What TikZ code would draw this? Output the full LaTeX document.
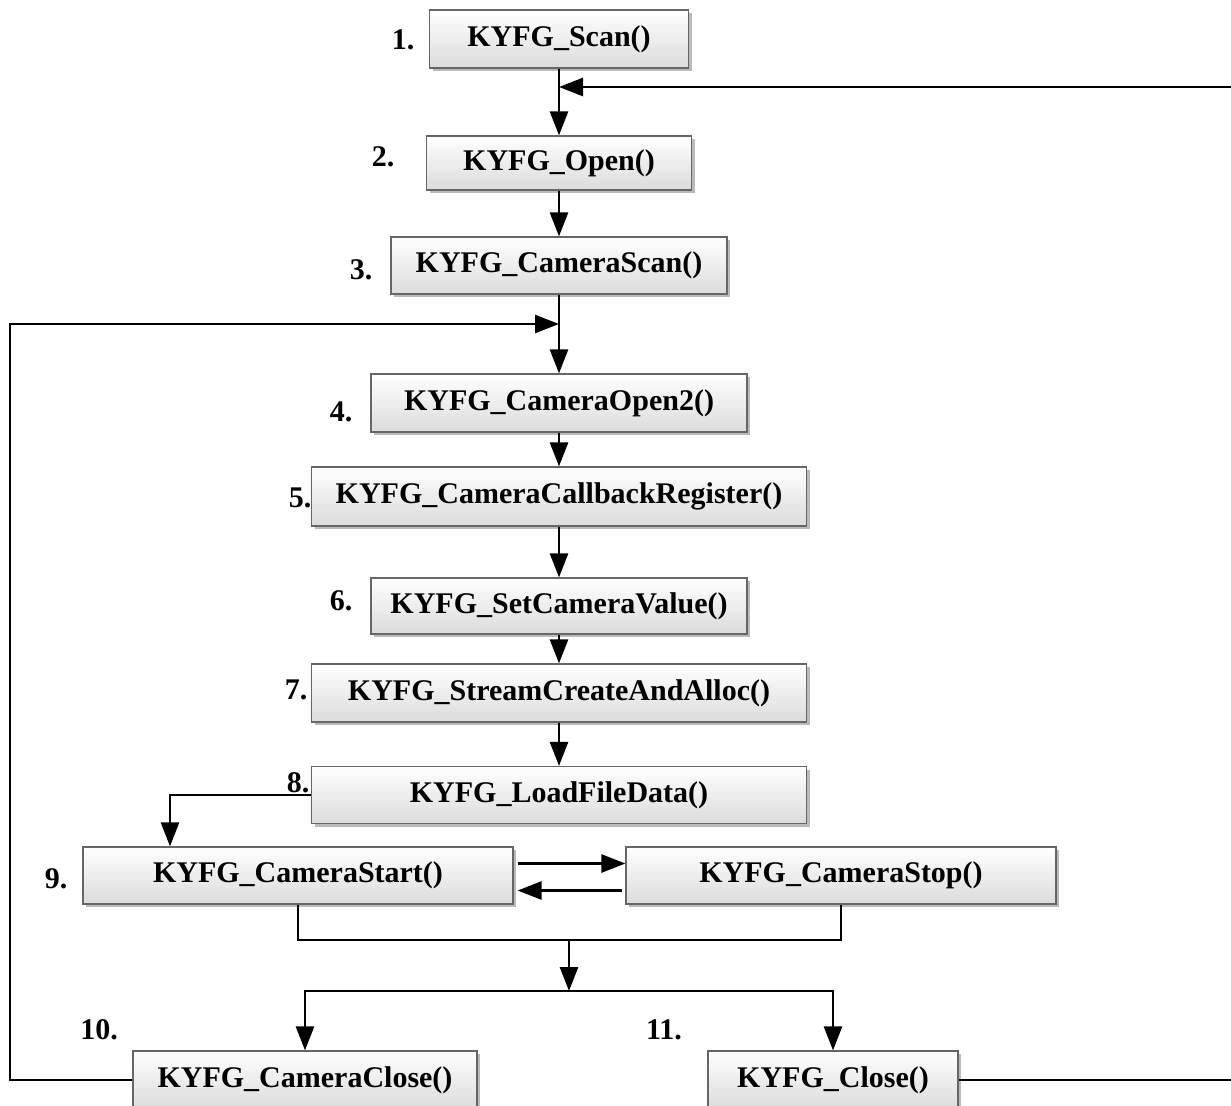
\documentclass[tikz,border=0pt]{standalone}
\usepackage{fontspec}
\setmainfont{Liberation Serif}
\usetikzlibrary{arrows.meta,shadows}

\tikzset{
  fbox/.style={draw=black!60, line width=0.6pt, top color=white, bottom color=black!14,
    drop shadow={shadow xshift=1.5pt,shadow yshift=-1.5pt,fill=black!45,opacity=.6},
    font=\fontsize{15}{17}\selectfont\bfseries, inner sep=0pt},
  numlab/.style={font=\fontsize{15}{17}\selectfont\bfseries, inner sep=0pt},
  flow/.style={line width=1.3pt, -{Triangle[length=12pt,width=9pt]}},
  plain/.style={line width=1.3pt}
}

\begin{document}
\begin{tikzpicture}[x=0.5pt,y=-0.5pt]
  \useasboundingbox (0,0) rectangle (1231,1105);
  % boxes
  \foreach \nm/\x/\y/\w/\h/\lab in {
      scan/559/39/259/58/{KYFG\_Scan()},
      open/559/163/265/54/{KYFG\_Open()},
      camscan/559/265.5/336/57/{KYFG\_CameraScan()},
      camopen/559/403/376/58/{KYFG\_CameraOpen2()},
      cbreg/559/496.5/495/59/{KYFG\_CameraCallbackRegister()},
      setval/559/606/376/56/{KYFG\_SetCameraValue()},
      stream/559/693/495/58/{KYFG\_StreamCreateAndAlloc()},
      load/559/795/495/57/{KYFG\_LoadFileData()},
      start/298/875.5/430/57/{KYFG\_CameraStart()},
      stop/841/875.5/430/57/{KYFG\_CameraStop()},
      camclose/305/1080/344/58/{KYFG\_CameraClose()},
      close/833/1080/250/58/{KYFG\_Close()}} {
    \node[fbox, minimum width=\w*0.5pt, minimum height=\h*0.5pt] (\nm) at (\x,\y) {\lab};
  }
  % step numbers
  \foreach \nm/\x/\y/\lab in {n1/403/40/{1.}, n2/383/157/{2.}, n3/361/270/{3.},
      n4/341/412/{4.}, n5/300/498/{5.}, n6/341/601/{6.}, n7/296/690/{7.},
      n8/298/783/{8.}, n9/56/879/{9.}, n10/99/1030/{10.}, n11/664/1030/{11.}} {
    \node[numlab] (\nm) at (\x,\y) {\lab};
  }
  % main column
  \foreach \a/\b in {scan/open, open/camscan, camscan/camopen, camopen/cbreg,
      cbreg/setval, setval/stream, stream/load} {
    \draw[flow] (\a.south) -- (\b.north);
  }
  \draw[flow] (load.west) -| ([xshift=-64pt]start.north);
  \draw[flow] ([shift={(2pt,6pt)}]start.east) -- ([yshift=6pt]stop.west);
  \draw[flow] ([shift={(-1.5pt,-7.5pt)}]stop.west) -- ([shift={(2pt,-7.5pt)}]start.east);
  % merge and split
  \coordinate (mrg) at (569,940);
  \coordinate (split) at (569,991);
  \draw[plain] (start.south) |- (mrg) -| (stop.south);
  \draw[flow] (mrg) -- (split);
  \draw[flow] (split) -| (camclose.north);
  \draw[flow] (split) -| (close.north);
  % return loops
  \coordinate (backL) at (10,324);
  \coordinate (joinL) at (559,324);
  \draw[flow] (camclose.west) -| (backL) -- (joinL);
  \coordinate (backR) at (1236,87);
  \coordinate (joinR) at (559,87);
  \draw[flow] (close.east) -| (backR) -- (joinR);
\end{tikzpicture}
\end{document}
